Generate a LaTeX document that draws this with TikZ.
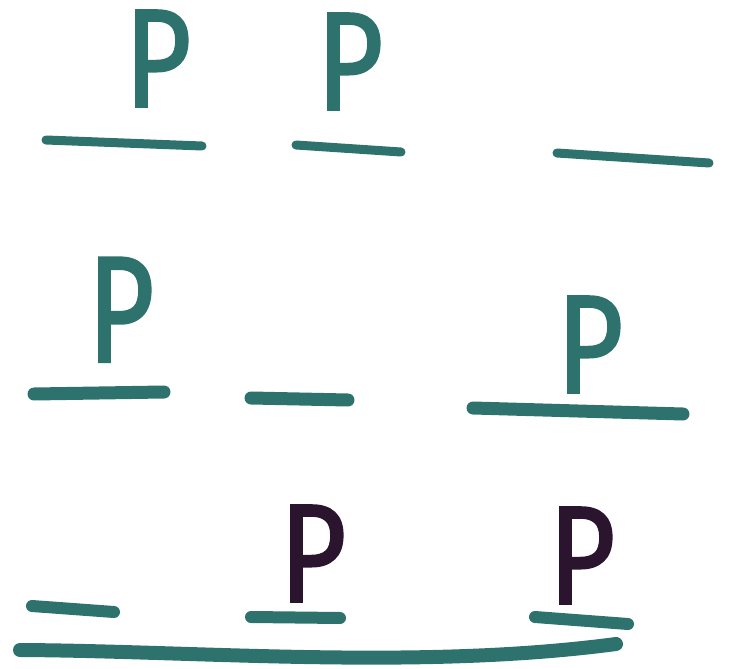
\documentclass[tikz,border=0pt]{standalone}
\usepackage{fontspec}
\newfontfamily\markerfont[FakeBold=1.6]{Fira Sans}
\usepackage{tikz}
\definecolor{marker}{RGB}{46,114,110}
\definecolor{ink}{RGB}{42,20,46}
\tikzset{slot/.style={draw=marker,line width=11pt,line cap=round},
  letter/.style={inner sep=0pt,anchor=south,text=marker,xscale=0.82,font=\markerfont\fontsize{140}{140}\selectfont},
  inkletter/.style={letter,text=ink}}

\begin{document}
\begin{tikzpicture}[x=1pt,y=-1pt]
\useasboundingbox (0,0) rectangle (734,669);
% top row
\node[letter] (p1) at (158,107) {P};
\node[letter] (p2) at (350,110) {P};
\draw[slot,line width=9pt] (46,140) -- (202,146);
\draw[slot,line width=9pt] (296,145) -- (401,152);
\draw[slot,line width=9pt] (557,153) -- (709,163);
% middle row
\node[letter,yscale=1.08] (p3) at (121,362) {P};
\node[letter] (p4) at (590,393) {P};
\draw[slot,line width=13pt] (34,394) -- (164,392);
\draw[slot,line width=13pt] (251,398) -- (348,400);
\draw[slot,line width=13pt] (473,408) -- (683,414);
% bottom row
\node[inkletter] (p5) at (313,602) {P};
\node[inkletter] (p6) at (582,604) {P};
\draw[slot,line width=12pt] (32,606) -- (114,612);
\draw[slot,line width=12pt] (251,617) -- (340,618);
\draw[slot,line width=12pt] (535,617) -- (628,624);
\draw[slot,line width=14pt] (20,650) .. controls (200,651) and (420,670) .. (616,644);
\end{tikzpicture}
\end{document}
